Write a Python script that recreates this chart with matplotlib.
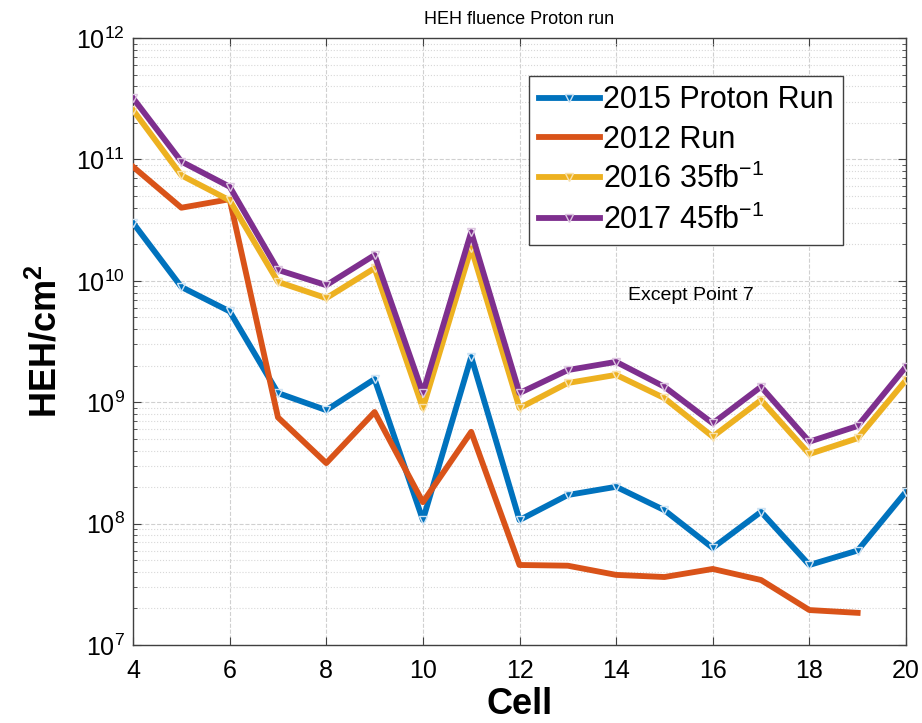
import numpy as np
import matplotlib
matplotlib.use("Agg")
import matplotlib.pyplot as plt
from matplotlib.ticker import FixedLocator, LogLocator, FuncFormatter, NullFormatter

plt.rcParams['font.family'] = ['Liberation Sans', 'DejaVu Sans']
plt.rcParams['mathtext.default'] = 'regular'

cells = list(range(4, 21))
cells_2012 = list(range(4, 20))

# HEH fluence per cell
run_2015 = [3.0e10, 8.9e9, 5.6e9, 1.19e9, 8.6e8, 1.55e9, 1.07e8, 2.36e9, 1.07e8,
            1.72e8, 2.01e8, 1.29e8, 6.3e7, 1.25e8, 4.56e7, 6.0e7, 1.83e8]
run_2012 = [8.7e10, 4.0e10, 4.7e10, 7.5e8, 3.15e8, 8.3e8, 1.5e8, 5.7e8, 4.56e7,
            4.5e7, 3.78e7, 3.63e7, 4.23e7, 3.43e7, 1.94e7, 1.84e7]
run_2016 = [2.55e11, 7.4e10, 4.6e10, 9.8e9, 7.2e9, 1.27e10, 8.95e8, 1.86e10, 8.95e8,
            1.44e9, 1.68e9, 1.08e9, 5.2e8, 1.04e9, 3.74e8, 5.05e8, 1.52e9]
run_2017 = [3.2e11, 9.6e10, 5.96e10, 1.23e10, 9.2e9, 1.63e10, 1.19e9, 2.52e10, 1.19e9,
            1.84e9, 2.15e9, 1.34e9, 6.7e8, 1.34e9, 4.73e8, 6.37e8, 1.96e9]

blue = '#0072BD'
orange = '#D95319'
yellow = '#EDB120'
purple = '#7E2F8E'

fig = plt.figure(figsize=(9.22, 7.23), dpi=100)
ax = fig.add_axes([0.1443, 0.1079, 0.8383, 0.8395])

lw = 4.2
ax.plot(cells, run_2015, color=blue, linewidth=lw, marker='v', markersize=6,
        markerfacecolor='none', markeredgecolor='#cfe3f3', markeredgewidth=1.0,
        label='2015 Proton Run', zorder=3)
ax.plot(cells_2012, run_2012, color=orange, linewidth=lw, label='2012 Run', zorder=3)
ax.plot(cells, run_2016, color=yellow, linewidth=lw, marker='v', markersize=6,
        markerfacecolor='none', markeredgecolor='#f8e2b0', markeredgewidth=1.0,
        label='2016 35fb$^{-1}$', zorder=3)
ax.plot(cells, run_2017, color=purple, linewidth=lw, marker='v', markersize=6,
        markerfacecolor='none', markeredgecolor='#dcc6e0', markeredgewidth=1.0,
        label='2017 45fb$^{-1}$', zorder=4)

ax.set_yscale('log')
ax.set_xlim(4, 20)
ax.set_ylim(1e7, 1e12)
ax.xaxis.set_major_locator(FixedLocator(range(4, 21, 2)))
ax.yaxis.set_major_locator(LogLocator(base=10, numticks=10))
ax.yaxis.set_minor_locator(LogLocator(base=10, subs=np.arange(2, 10), numticks=50))
ax.yaxis.set_minor_formatter(NullFormatter())
ax.yaxis.set_major_formatter(FuncFormatter(lambda v, p: '10$^{%d}$' % round(np.log10(v))))

ax.grid(True, which='major', linestyle='--', color='#d0d0d0', linewidth=0.8)
ax.grid(True, which='minor', axis='y', linestyle=':', color='#d8d8d8', linewidth=0.8)
ax.set_axisbelow(True)

ax.tick_params(which='both', direction='in', top=True, right=True, color='#404040')
ax.tick_params(which='major', length=6, labelsize=18)
ax.tick_params(axis='x', which='major', pad=10)
ax.tick_params(axis='y', which='major', pad=6)
ax.tick_params(which='minor', length=3)
for s in ax.spines.values():
    s.set_color('#404040')
    s.set_linewidth(1.0)

ax.set_xlabel('Cell', fontsize=26, fontweight='bold', labelpad=3)
ax.set_ylabel('HEH/cm$^{2}$', fontsize=26, fontweight='bold', labelpad=8)
ax.set_title('HEH fluence Proton run', fontsize=13, pad=10)

ax.text(15.55, 7.5e9, 'Except Point 7', fontsize=14, ha='center', va='center')

leg = ax.legend(loc='upper right', bbox_to_anchor=(0.918, 0.937), fontsize=22,
                handlelength=2.0, handletextpad=0.1, borderpad=0.3, labelspacing=0.3,
                fancybox=False, framealpha=1.0, edgecolor='#404040', borderaxespad=0)
leg.get_frame().set_linewidth(1.0)

fig.savefig('out.png', dpi=100)
